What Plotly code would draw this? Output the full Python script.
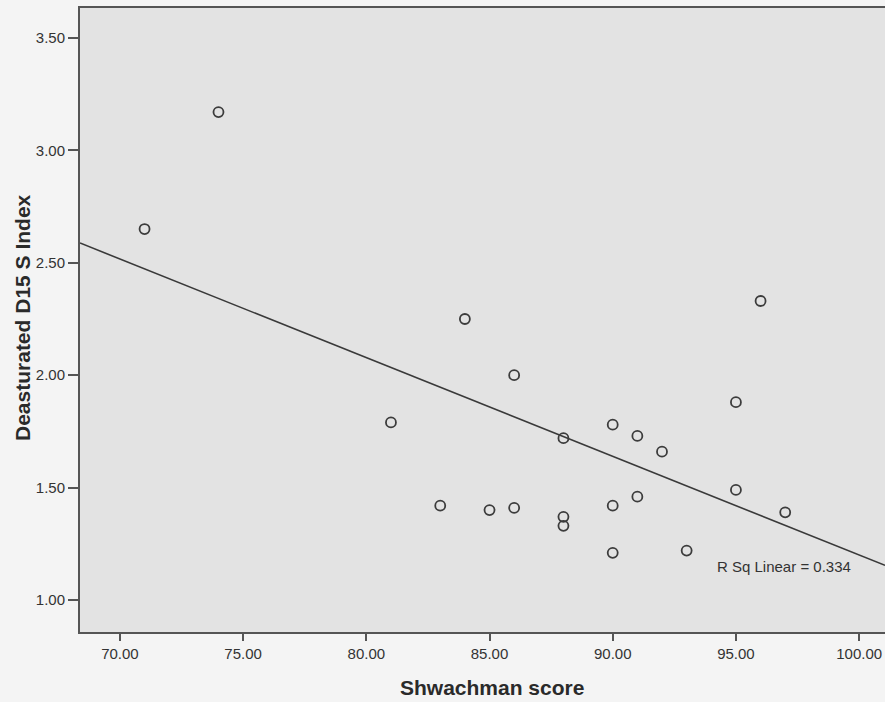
import numpy as np
import plotly.graph_objects as go

# Data
shwachman = [71, 74, 81, 83, 84, 85, 86, 86, 88, 88, 88, 90, 90, 90, 91, 91, 92, 93, 95, 95, 96, 97]
d15_index = [2.65, 3.17, 1.79, 1.42, 2.25, 1.40, 2.00, 1.41, 1.72, 1.37, 1.33, 1.78, 1.42, 1.21,
             1.73, 1.46, 1.66, 1.22, 1.88, 1.49, 2.33, 1.39]
r_sq_label = "R Sq Linear = 0.334"
x_title = "Shwachman score"
y_title = "Deasturated D15 S Index"

X_RANGE = [68.38, 101.05]
Y_RANGE = [0.858, 3.633]

slope, intercept = np.polyfit(shwachman, d15_index, 1)
fit_x = np.array(X_RANGE)
fit_y = slope * fit_x + intercept

FONT = "Liberation Sans, Arial, sans-serif"
INK = "#333333"

fig = go.Figure()
fig.add_trace(go.Scatter(
    x=fit_x, y=fit_y, mode="lines",
    line=dict(color="#3a3a3a", width=1.6),
    showlegend=False, hoverinfo="skip", cliponaxis=True,
))
fig.add_trace(go.Scatter(
    x=shwachman, y=d15_index, mode="markers",
    marker=dict(symbol="circle-open", size=10, color="#3c3c3c",
                line=dict(width=1.8, color="#3c3c3c")),
    showlegend=False,
))

fig.update_layout(
    width=885, height=702, autosize=False,
    margin=dict(l=80, r=0, t=8, b=70, pad=0),
    paper_bgcolor="#f4f4f4",
    plot_bgcolor="#e3e3e3",
    font=dict(family=FONT, size=15, color=INK),
    xaxis=dict(
        range=X_RANGE, tick0=70, dtick=5, tickformat=".2f",
        showgrid=False, zeroline=False,
        showline=True, linecolor="#555555", linewidth=2, mirror=True,
        ticks="outside", ticklen=7, tickwidth=1.5, tickcolor="#555555",
        tickfont=dict(family=FONT, size=15, color=INK),
    ),
    yaxis=dict(
        range=Y_RANGE, tick0=1.0, dtick=0.5, tickformat=".2f",
        showgrid=False, zeroline=False,
        showline=True, linecolor="#555555", linewidth=2, mirror=False,
        ticks="outside", ticklen=10, tickwidth=1.5, tickcolor="#555555",
        tickfont=dict(family=FONT, size=15, color=INK),
    ),
    annotations=[
        dict(text=r_sq_label, x=94.15, y=1.15, xref="x", yref="y",
             xanchor="left", yanchor="middle", showarrow=False,
             font=dict(family=FONT, size=15, color=INK)),
        dict(text="<b>" + x_title + "</b>", x=(492 - 80) / 805, y=-(688 - 632) / 624,
             xref="paper", yref="paper", xanchor="center", yanchor="middle",
             showarrow=False, font=dict(family=FONT, size=21, color="#2a2a2a")),
        dict(text="<b>" + y_title + "</b>", x=(22 - 80) / 805, y=(632 - 318) / 624,
             xref="paper", yref="paper", xanchor="center", yanchor="middle",
             textangle=-90, showarrow=False,
             font=dict(family=FONT, size=21, color="#2a2a2a")),
    ],
)

fig.write_html(
    "out.html",
    config={"displayModeBar": False},
    post_script="document.body.style.margin='0';document.body.style.overflow='hidden';",
)
